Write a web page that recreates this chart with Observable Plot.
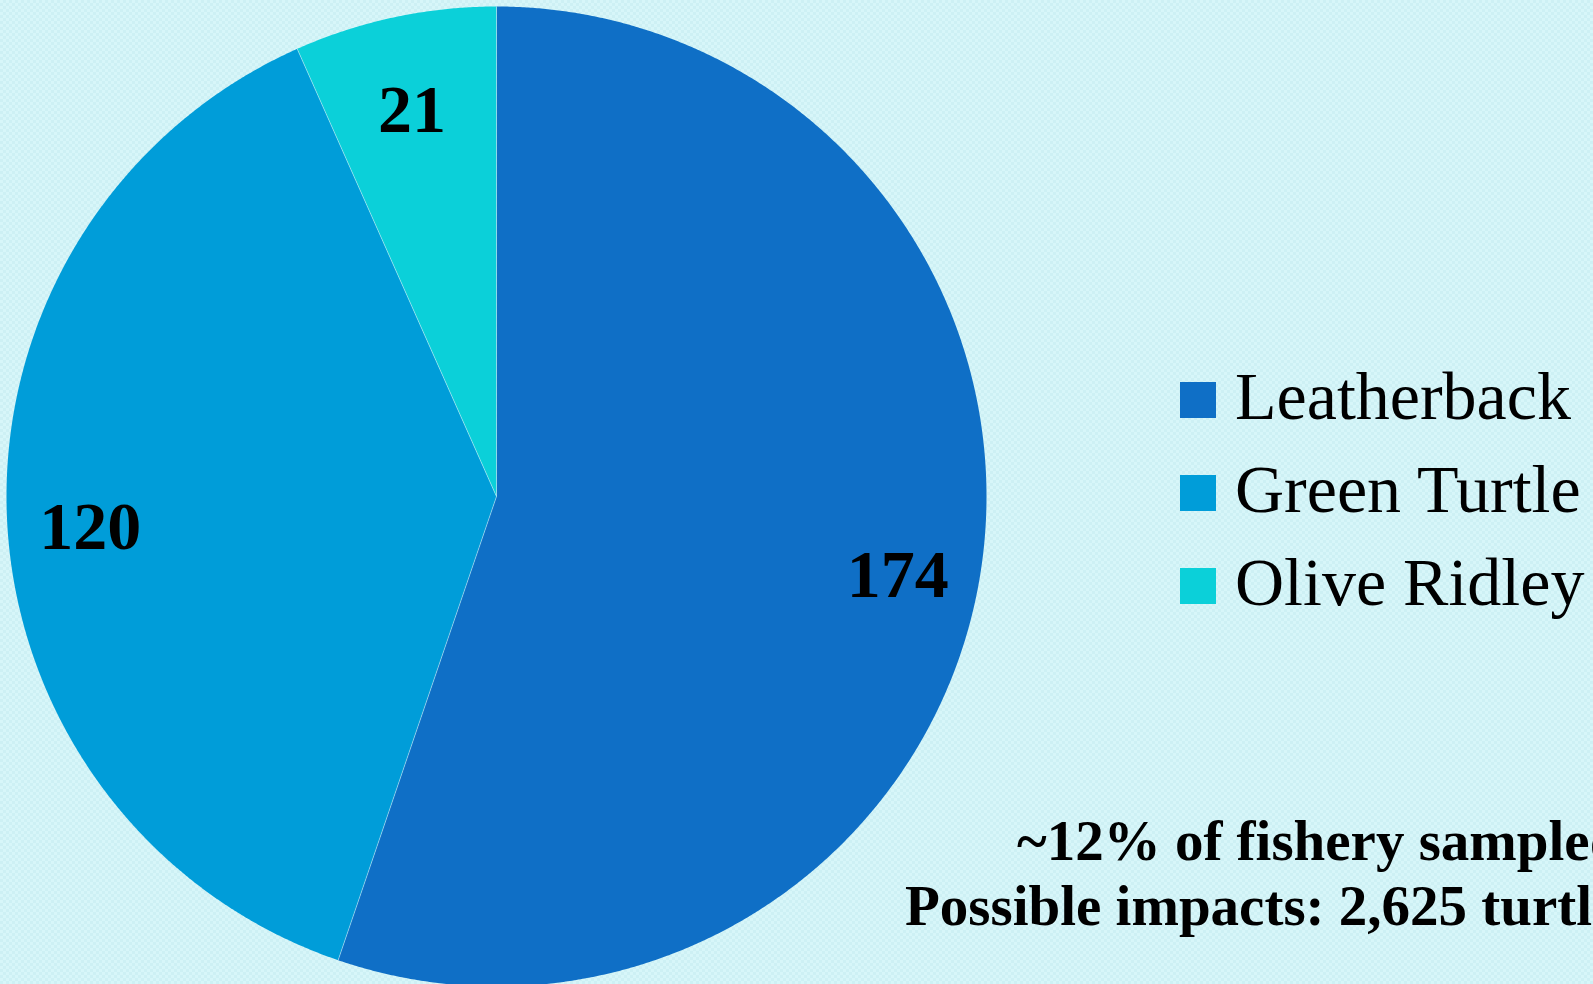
<!DOCTYPE html>
<html>
<head>
<meta charset="utf-8">
<script src="https://cdn.jsdelivr.net/npm/d3@7"></script>
<script src="https://cdn.jsdelivr.net/npm/@observablehq/plot@0.6"></script>
<style>
  html, body { margin: 0; padding: 0; width: 1593px; height: 984px; overflow: hidden; }
  body {
    background-color: #d7f6f9;
    background-image: conic-gradient(#cdf0f4 25%, transparent 0 50%, #cdf0f4 0 75%, transparent 0);
    background-size: 6px 6px;
    font-family: "Liberation Serif", "DejaVu Serif", serif;
    position: relative;
  }
  #chart { position: absolute; left: 0; top: 0; }
  .leg-row { position: absolute; left: 1180px; height: 68px; }
  .leg-sw { position: absolute; left: 0; width: 36px; height: 36px; }
  .leg-tx { position: absolute; left: 55px; font-size: 68px; line-height: 1; white-space: nowrap; color: #000; }
  .note { position: absolute; font-size: 57px; font-weight: bold; line-height: 1; white-space: nowrap; color: #000; }
</style>
</head>
<body>
<div id="chart"></div>
<div id="legend"></div>
<div id="notes"></div>
<script>
// ---- data ----
const species = ["Leatherback", "Green Turtle", "Olive Ridley"];
const counts = [174, 120, 21];
const colors = ["#0F6FC6", "#009DD9", "#0BD0D9"];
const noteLines = ["~12% of fishery sampled", "Possible impacts: 2,625 turtles"];

// ---- layout ----
const W = 1593, H = 984;
const cx = 496, cy = 496, R = 490;

const arcs = d3.pie().sort(null).value(d => d)(counts).map((a, i) => ({
  species: species[i], count: counts[i], start: a.startAngle, end: a.endAngle,
  mid: (a.startAngle + a.endAngle) / 2
}));

// polygon outlines for each slice, in unit-circle coordinates
const poly = [];
for (const a of arcs) {
  poly.push({species: a.species, x: 0, y: 0});
  const n = Math.max(2, Math.ceil((a.end - a.start) / (Math.PI / 720)));
  for (let k = 0; k <= n; k++) {
    const t = a.start + (a.end - a.start) * k / n;
    poly.push({species: a.species, x: Math.sin(t), y: Math.cos(t)});
  }
}

const chart = Plot.plot({
  width: W, height: H,
  margin: 0,
  style: {background: "transparent", overflow: "visible"},
  x: {domain: [-1, 1], range: [cx - R, cx + R], axis: null},
  y: {domain: [-1, 1], range: [cy + R, cy - R], axis: null},
  color: {domain: species, range: colors},
  marks: [
    Plot.line(poly, {x: "x", y: "y", z: "species", fill: "species", stroke: null, curve: "linear-closed"}),
    Plot.link(arcs, {x1: () => 0, y1: () => 0, x2: d => Math.sin(d.start), y2: d => Math.cos(d.start), stroke: "white", strokeWidth: 0.6, strokeOpacity: 0.7}),
    Plot.text(arcs, {
      x: d => 0.83 * Math.sin(d.mid), y: d => 0.83 * Math.cos(d.mid),
      text: d => String(d.count), dy: 12,
      fontSize: 68, fontWeight: "bold", fontFamily: "Liberation Serif, serif", fill: "black"
    })
  ]
});
document.getElementById("chart").appendChild(chart);

// ---- legend ----
const legend = document.getElementById("legend");
const legBase = [419, 512, 605];
species.forEach((s, i) => {
  const row = document.createElement("div");
  row.className = "leg-row";
  row.style.top = (legBase[i] - 57) + "px";
  const sw = document.createElement("div");
  sw.className = "leg-sw";
  sw.style.background = colors[i];
  sw.style.top = "20px";
  const tx = document.createElement("div");
  tx.className = "leg-tx";
  tx.textContent = s;
  row.appendChild(sw); row.appendChild(tx);
  legend.appendChild(row);
});

// ---- notes ----
const notes = document.getElementById("notes");
const noteX = [1017, 905], noteBase = [860, 925];
noteLines.forEach((t, i) => {
  const d = document.createElement("div");
  d.className = "note";
  d.textContent = t;
  d.style.left = noteX[i] + "px";
  d.style.top = (noteBase[i] - 48) + "px";
  notes.appendChild(d);
});
</script>
</body>
</html>
